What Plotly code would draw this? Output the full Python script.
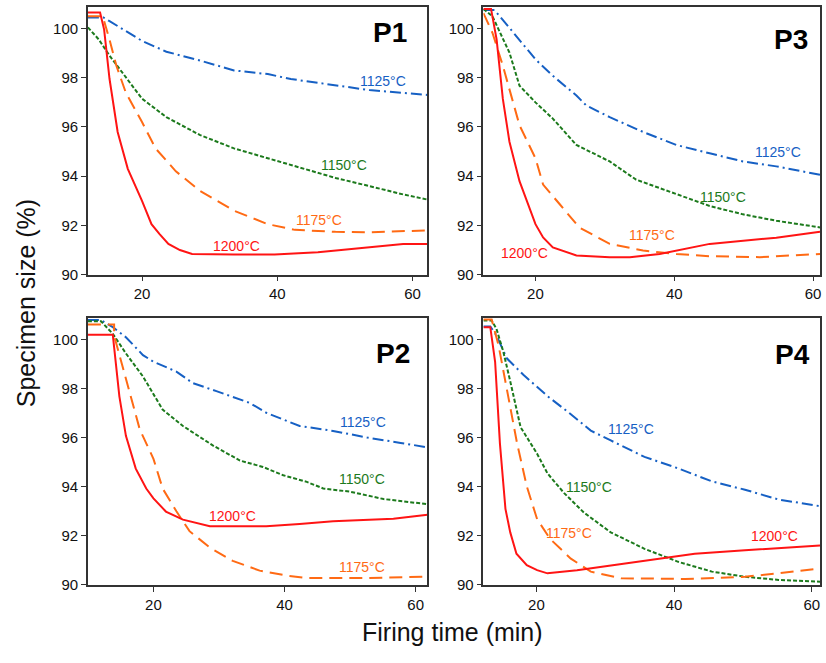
import plotly.graph_objects as go

# firing temperatures
temps = ["1125°C", "1150°C", "1175°C", "1200°C"]

# ---- P1 (top left) ----
p1_t_1125 = [12, 14.3, 15.2, 20, 23.6, 28.6, 33.6, 38.6, 42, 48.6, 53.6, 62.2]
p1_s_1125 = [100.45, 100.45, 100.3, 99.5, 99.06, 98.7, 98.3, 98.15, 97.95, 97.7, 97.5, 97.3]
p1_t_1150 = [12, 13.6, 15.2, 20, 23.6, 28.6, 33.6, 38.6, 43.6, 48.6, 53.6, 58.6, 62.2]
p1_s_1150 = [100.05, 99.56, 98.9, 97.15, 96.4, 95.67, 95.13, 94.73, 94.33, 93.93, 93.6, 93.26, 93.05]
p1_t_1175 = [12, 14.2, 15.2, 16.2, 17.6, 20, 22, 25, 28.6, 33.6, 38.6, 42.6, 48.6, 53.6, 62.2]
p1_s_1175 = [100.5, 100.5, 99.55, 98.5, 97.4, 96.2, 95.13, 94.2, 93.4, 92.6, 92.05, 91.82, 91.74, 91.72, 91.8]
p1_t_1200 = [12, 13.8, 14.4, 15.2, 16.4, 17.9, 20, 21.4, 22.6, 23.9, 25.6, 27.4, 33.6, 39.6, 46, 53.6, 58.6, 62.2]
p1_s_1200 = [100.65, 100.65, 99.96, 97.95, 95.8, 94.3, 93.0, 92.05, 91.65, 91.25, 91.0, 90.84, 90.82, 90.82, 90.91, 91.1, 91.25, 91.25]

# ---- P3 (top right) ----
p3_t_1125 = [12.5, 14.1, 16.25, 20, 22.5, 25.9, 27.3, 30.7, 35.5, 40.3, 45.1, 49.9, 54.7, 61]
p3_s_1125 = [100.75, 100.75, 100.03, 98.75, 98.08, 97.28, 96.88, 96.4, 95.8, 95.27, 94.93, 94.6, 94.4, 94.06]
p3_t_1150 = [12.5, 13.8, 16.25, 17.7, 20, 22.5, 25.9, 30.7, 34.5, 40.3, 45.1, 49.9, 54.7, 61]
p3_s_1150 = [100.8, 100.5, 99.02, 97.68, 97.0, 96.34, 95.27, 94.6, 93.86, 93.26, 92.79, 92.45, 92.19, 91.92]
p3_t_1175 = [12.5, 13.8, 15.3, 17.7, 20, 21.1, 23.5, 26.3, 30.7, 35.5, 40.3, 45.1, 52.3, 61]
p3_s_1175 = [100.63, 99.83, 98.49, 96.07, 94.73, 93.66, 92.86, 91.92, 91.25, 90.98, 90.84, 90.75, 90.71, 90.84]
p3_t_1200 = [12.5, 13.6, 14.4, 15.3, 16.25, 17.7, 20, 21.1, 22.5, 25.9, 30.7, 33.6, 37.9, 45.1, 54.7, 61]
p3_s_1200 = [100.8, 100.8, 99.56, 97.14, 95.4, 93.8, 92.05, 91.51, 91.11, 90.78, 90.71, 90.71, 90.84, 91.25, 91.5, 91.74]

# ---- P2 (bottom left) ----
p2_t_1125 = [10, 12, 13.8, 15.8, 18.4, 20, 23.5, 26, 29.6, 34.7, 37.2, 42.3, 47.4, 52.6, 57.7, 61.8]
p2_s_1125 = [100.8, 100.8, 100.51, 100.1, 99.37, 99.1, 98.7, 98.23, 97.9, 97.42, 97.02, 96.48, 96.28, 96.01, 95.79, 95.61]
p2_t_1150 = [10, 12, 13.8, 15.8, 18.4, 21.4, 24.5, 29.1, 33.2, 36.7, 39.8, 43.4, 45.9, 50, 55.1, 61.8]
p2_s_1150 = [100.75, 100.75, 100.24, 99.44, 98.5, 97.15, 96.48, 95.68, 95.07, 94.81, 94.47, 94.2, 93.93, 93.8, 93.5, 93.29]
p2_t_1175 = [10, 14.0, 14.0, 15.8, 17.9, 20, 21.4, 23.5, 25.5, 28.6, 32.1, 36.2, 40.3, 43.4, 52.6, 61.8]
p2_s_1175 = [100.62, 100.62, 100.17, 98.36, 96.35, 95.14, 93.93, 93.0, 92.19, 91.52, 90.98, 90.58, 90.38, 90.28, 90.28, 90.34]
p2_t_1200 = [10, 13.8, 14.0, 14.8, 15.8, 17.3, 18.9, 20, 21.9, 24.5, 28.6, 37.2, 42.3, 47.4, 56.6, 61.8]
p2_s_1200 = [100.2, 100.2, 99.7, 97.69, 96.08, 94.74, 93.93, 93.53, 92.99, 92.66, 92.39, 92.39, 92.48, 92.59, 92.7, 92.86]

# ---- P4 (bottom right) ----
p4_t_1125 = [12.3, 13.3, 14.2, 15.7, 18.1, 21.6, 25, 27.9, 30.8, 35.7, 40.6, 45.5, 50.3, 55.2, 61.2]
p4_s_1125 = [100.54, 100.54, 100.17, 99.24, 98.57, 97.7, 96.96, 96.29, 95.89, 95.22, 94.75, 94.22, 93.88, 93.48, 93.21]
p4_t_1150 = [12.3, 13.5, 14.2, 15.2, 16.2, 17.7, 20.1, 21.6, 24, 26.9, 30.8, 35.7, 40.6, 45.5, 50.3, 55.2, 61.2]
p4_s_1150 = [100.78, 100.78, 100.44, 99.5, 98.3, 96.43, 95.35, 94.55, 93.75, 92.95, 92.14, 91.47, 90.94, 90.54, 90.33, 90.2, 90.13]
p4_t_1175 = [12.3, 13.5, 14.5, 15.7, 17.2, 18.6, 20.1, 22, 25, 27.9, 32.3, 41.6, 50.3, 55.2, 61.2]
p4_s_1175 = [100.82, 100.82, 99.77, 98.03, 95.76, 94.02, 92.68, 91.87, 91.07, 90.54, 90.27, 90.24, 90.33, 90.47, 90.67]
p4_t_1200 = [12.3, 13.3, 14, 14.7, 15.5, 16.2, 17.1, 18.6, 20.1, 21.6, 25.9, 30.8, 35.7, 43, 50.3, 61.2]
p4_s_1200 = [100.51, 100.51, 99.1, 95.76, 93.1, 92.14, 91.27, 90.8, 90.6, 90.47, 90.6, 90.8, 91.0, 91.27, 91.41, 91.61]

# curve label anchor points (time, size) per panel, order as temps
p1_lab_t = [55.6, 49.9, 46.2, 33.9]
p1_lab_s = [97.88, 94.46, 92.21, 91.18]
p3_lab_t = [55.0, 47.0, 36.8, 18.4]
p3_lab_s = [94.97, 93.16, 91.62, 90.87]
p2_lab_t = [52.0, 51.8, 51.8, 32.0]
p2_lab_s = [96.64, 94.3, 90.71, 92.82]
p4_lab_t = [33.7, 27.7, 24.8, 54.6]
p4_lab_s = [96.36, 93.98, 92.12, 92.0]

colors = ["#1660c4", "#1c7a1c", "#ff6a14", "#ff1414"]
dashes = ["11px,4px,2px,4px", "4px,2px", "13px,7px", "solid"]

panels = [
    ("P1", "x", "y", [(p1_t_1125, p1_s_1125), (p1_t_1150, p1_s_1150), (p1_t_1175, p1_s_1175), (p1_t_1200, p1_s_1200)], p1_lab_t, p1_lab_s),
    ("P3", "x2", "y2", [(p3_t_1125, p3_s_1125), (p3_t_1150, p3_s_1150), (p3_t_1175, p3_s_1175), (p3_t_1200, p3_s_1200)], p3_lab_t, p3_lab_s),
    ("P2", "x3", "y3", [(p2_t_1125, p2_s_1125), (p2_t_1150, p2_s_1150), (p2_t_1175, p2_s_1175), (p2_t_1200, p2_s_1200)], p2_lab_t, p2_lab_s),
    ("P4", "x4", "y4", [(p4_t_1125, p4_s_1125), (p4_t_1150, p4_s_1150), (p4_t_1175, p4_s_1175), (p4_t_1200, p4_s_1200)], p4_lab_t, p4_lab_s),
]

FONT = "Liberation Sans, Arial, sans-serif"

fig = go.Figure()
annotations = []

for name, xa, ya, series, lab_t, lab_s in panels:
    for i, (t, s) in enumerate(series):
        fig.add_trace(go.Scatter(x=t, y=s, mode="lines", xaxis=xa, yaxis=ya,
                                 line=dict(color=colors[i], width=2, dash=dashes[i]),
                                 showlegend=False, hoverinfo="skip"))
        annotations.append(dict(x=lab_t[i], y=lab_s[i], xref=xa, yref=ya, text=temps[i],
                                showarrow=False, font=dict(family=FONT, size=14, color=colors[i])))

# panel names
title_pos = {"P1": (56.6, 99.84, "x", "y"), "P3": (56.75, 99.55, "x2", "y2"),
             "P2": (56.6, 99.44, "x3", "y3"), "P4": (57.2, 99.4, "x4", "y4")}
for name, (tx, ty, xa, ya) in title_pos.items():
    annotations.append(dict(x=tx, y=ty, xref=xa, yref=ya, text="<b>" + name + "</b>",
                            showarrow=False, font=dict(family=FONT, size=28, color="black")))

# axis titles
annotations.append(dict(x=453 / 826, y=1 - 640 / 663, xref="paper", yref="paper",
                        xanchor="center", yanchor="middle",
                        text="Firing time (min)", showarrow=False,
                        font=dict(family=FONT, size=25, color="#111")))
annotations.append(dict(x=26 / 826, y=1 - 307 / 663, xref="paper", yref="paper",
                        xanchor="center", yanchor="middle",
                        text="Specimen size (%)", showarrow=False, textangle=-90,
                        font=dict(family=FONT, size=25, color="#111")))

W, H = 826, 663
xdom_left = [88 / W, 428 / W]
xdom_right = [484 / W, 821 / W]
ydom_top = [1 - 278 / H, 1 - 7 / H]
ydom_bot = [1 - 592 / H, 1 - 322 / H]


def xax(dom, rng, anchor):
    return dict(domain=dom, range=rng, anchor=anchor, tickvals=[20, 40, 60],
                showline=True, mirror=True, linecolor="#333", linewidth=1.5,
                ticks="outside", ticklen=5, tickcolor="#333", showgrid=False, zeroline=False,
                tickfont=dict(family=FONT, size=15, color="#111"))


def yax(dom, anchor):
    return dict(domain=dom, range=[90, 100.88], anchor=anchor, tickvals=[90, 92, 94, 96, 98, 100],
                showline=True, mirror=True, linecolor="#333", linewidth=1.5,
                ticks="outside", ticklen=5, tickcolor="#333", showgrid=False, zeroline=False,
                tickfont=dict(family=FONT, size=15, color="#111"))


fig.update_layout(
    width=W, height=H,
    margin=dict(l=0, r=0, t=0, b=0),
    paper_bgcolor="white", plot_bgcolor="white",
    xaxis=xax(xdom_left, [12, 62.2], "y"), yaxis=yax(ydom_top, "x"),
    xaxis2=xax(xdom_right, [12.5, 61.0], "y2"), yaxis2=yax(ydom_top, "x2"),
    xaxis3=xax(xdom_left, [10, 61.8], "y3"), yaxis3=yax(ydom_bot, "x3"),
    xaxis4=xax(xdom_right, [12.3, 61.2], "y4"), yaxis4=yax(ydom_bot, "x4"),
    annotations=annotations,
)

# page margin off so the figure sits at the window's top-left corner
fig.write_html("out.html", config={"displayModeBar": False},
               post_script="document.body.style.margin='0';document.body.style.overflow='hidden';")
